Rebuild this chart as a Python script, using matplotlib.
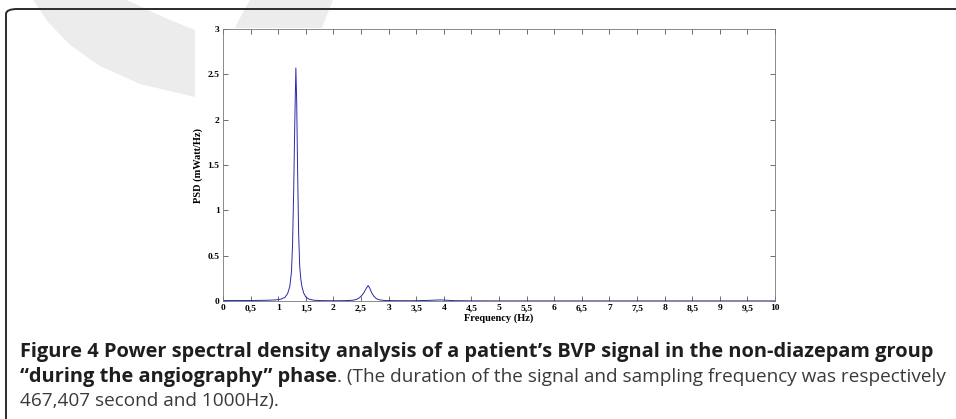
import matplotlib.pyplot as plt
from matplotlib.patches import Polygon, FancyBboxPatch

W, H = 956, 419

# values (Hz, mWatt/Hz)
freq = [0.0, 0.2, 0.4, 0.6, 0.8, 0.95, 1.05, 1.12, 1.17, 1.21, 1.24, 1.26, 1.28,
        1.30, 1.32, 1.335, 1.35, 1.37, 1.39, 1.41, 1.43, 1.46, 1.50, 1.56, 1.65,
        1.8, 2.0, 2.2, 2.35, 2.42, 2.47, 2.52, 2.56, 2.60, 2.63, 2.66, 2.69,
        2.73, 2.78, 2.84, 2.92, 3.1, 3.4, 3.7, 3.85, 3.95, 4.05, 4.2, 4.5,
        5.0, 6.0, 7.0, 8.0, 9.0, 10.0]
psd = [0.004, 0.006, 0.005, 0.006, 0.008, 0.012, 0.02, 0.04, 0.08, 0.16, 0.32,
       0.62, 1.2, 1.95, 2.57, 2.2, 1.5, 0.75, 0.38, 0.24, 0.16, 0.09, 0.045,
       0.02, 0.008, 0.004, 0.003, 0.004, 0.008, 0.018, 0.035, 0.065, 0.1,
       0.145, 0.17, 0.14, 0.095, 0.055, 0.025, 0.012, 0.006, 0.004, 0.003,
       0.006, 0.01, 0.012, 0.008, 0.004, 0.002, 0.001, 0.001, 0.001, 0.001,
       0.001, 0.001]

xticks = [i * 0.5 for i in range(21)]
xticklabels = ["0", "0,5", "1", "1,5", "2", "2,5", "3", "3,5", "4", "4,5", "5",
               "5,5", "6", "6,5", "7", "7,5", "8", "8,5", "9", "9,5", "10"]
yticks = [0, 0.5, 1, 1.5, 2, 2.5, 3]
yticklabels = ["0", "0.5", "1", "1.5", "2", "2.5", "3"]

caption1 = "Figure 4 Power spectral density analysis of a patient\u2019s BVP signal in the non-diazepam group"
caption2_bold = "\u201cduring the angiography\u201d phase"
caption2_reg = ". (The duration of the signal and sampling frequency was respectively"
caption3 = "467,407 second and 1000Hz)."


def fx(x):
    return x / W


def fy(y):
    return 1 - y / H


fig = plt.figure(figsize=(W / 100, H / 100), dpi=100)

# faint watermark in the top-left corner
wm_color = "#ececec"
left_mark = [(33, 0), (48, 22), (70, 45), (100, 66), (140, 84), (195, 97),
             (195, 30), (170, 20), (148, 10), (127, 0)]
right_mark = [(250, 0), (333, 0), (322, 28), (235, 28), (243, 12)]
for pts in (left_mark, right_mark):
    fig.patches.append(Polygon([(fx(a), fy(b)) for a, b in pts], closed=True,
                               transform=fig.transFigure, facecolor=wm_color,
                               edgecolor="none", zorder=0))

# rounded frame around the figure box
frame = FancyBboxPatch((fx(6), fy(440)), fx(990), 440 / H - 9 / H,
                       boxstyle="round,pad=0,rounding_size=0.012",
                       transform=fig.transFigure, facecolor="none",
                       edgecolor="#2b2b2b", linewidth=1.4, zorder=1)
fig.patches.append(frame)

ax = fig.add_axes([fx(223), fy(301), fx(775) - fx(223), (301 - 29) / H])
ax.plot(freq, psd, color="#2a2aa8", linewidth=0.7)
ax.set_xlim(0, 10)
ax.set_ylim(0, 3)

tick_font = dict(family="Liberation Serif", weight="bold", size=6.8)
ax.set_xticks(xticks)
ax.set_xticklabels(xticklabels, **tick_font)
ax.set_yticks(yticks)
ax.set_yticklabels(yticklabels, **tick_font)
ax.tick_params(direction="in", length=3.5, width=0.6, color="#555555",
               top=True, right=True, pad=2.5)
for s in ax.spines.values():
    s.set_linewidth(0.6)
    s.set_color("#777777")

ax.set_xlabel("Frequency (Hz)", family="Liberation Serif", weight="bold",
              size=7.5, labelpad=0.5)
ax.set_ylabel("PSD (mWatt/Hz)", family="Liberation Serif", weight="bold",
              size=7.5, labelpad=3)

cap_font = ["Open Sans", "DejaVu Sans"]
bold_size = 14.4
reg_size = 13.7
fig.text(fx(20), fy(357), caption1, family=cap_font, weight="bold",
         size=bold_size, color="#1e1e1e", va="baseline")
t2 = fig.text(fx(20), fy(382), caption2_bold, family=cap_font, weight="bold",
              size=bold_size, color="#1e1e1e", va="baseline")
t3 = fig.text(fx(20), fy(382), caption2_reg, family=cap_font, size=reg_size,
              color="#3a3a3a", va="baseline")
fig.text(fx(20), fy(406), caption3, family=cap_font, size=reg_size,
         color="#3a3a3a", va="baseline")

# put the regular part right after the bold part
fig.canvas.draw()
bb = t2.get_window_extent()
t3.set_position((bb.x1 / fig.bbox.width, fy(382)))

fig.savefig("out.png", dpi=100)
